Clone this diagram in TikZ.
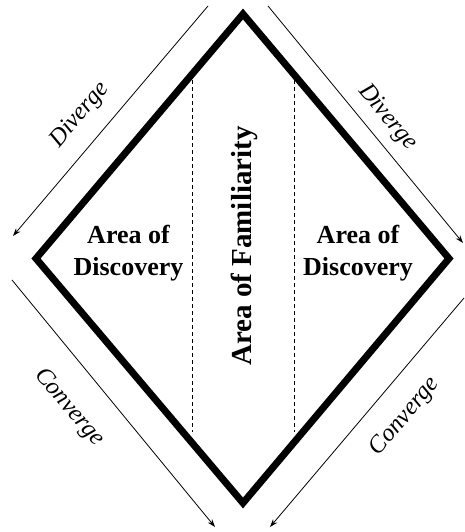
\documentclass[tikz,border=0pt]{standalone}
\usepackage{fontspec}
\setmainfont{Liberation Serif}
\usetikzlibrary{arrows.meta}
\tikzset{
  edge/.style={line width=7pt, line join=miter},
  divider/.style={line width=0.9pt, dash pattern=on 4pt off 3pt},
  flow/.style={line width=0.8pt, -{Stealth[length=8pt,width=5.5pt]}},
  flowlabel/.style={font=\itshape\fontsize{24.5}{26}\selectfont, inner sep=0pt},
  area/.style={font=\bfseries\fontsize{26}{32}\selectfont, align=center, inner sep=0pt},
  famarea/.style={font=\bfseries\fontsize{29}{30}\selectfont, inner sep=0pt, rotate=90}
}
\begin{document}
\begin{tikzpicture}[x=1pt,y=-1pt]
\useasboundingbox (0,0) rectangle (464,532);
% diamond vertices
\coordinate (top) at (243,14);
\coordinate (right) at (449,258.5);
\coordinate (bottom) at (243,503);
\coordinate (left) at (36,258.5);
% dividers
\coordinate (d1a) at (192,80);
\coordinate (d1b) at (192,432);
\coordinate (d2a) at (294,80);
\coordinate (d2b) at (294,432);
\draw[divider] (d1a) -- (d1b);
\draw[divider] (d2a) -- (d2b);
\draw[edge] (top) -- (right) -- (bottom) -- (left) -- cycle;
% texts
\node[area] (discL) at (128.5,253) {Area of\\Discovery};
\node[area] (discR) at (358,253) {Area of\\Discovery};
\node[famarea] (fam) at (244,246) {Area of Familiarity};
% flow arrows
\coordinate (tls) at (208,6);
\coordinate (tle) at (13,236);
\coordinate (trs) at (268,6);
\coordinate (tre) at (463,243);
\coordinate (bls) at (12,280);
\coordinate (ble) at (215,527);
\coordinate (brs) at (464,298);
\coordinate (bre) at (270,527);
\draw[flow] (tls) -- (tle);
\draw[flow] (trs) -- (tre);
\draw[flow] (bls) -- (ble);
\draw[flow] (brs) -- (bre);
\node[flowlabel, rotate=49.8] (divL) at (80,115) {Diverge};
\node[flowlabel, rotate=-49.8] (divR) at (387.5,117.5) {Diverge};
\node[flowlabel, rotate=-49.8] (conL) at (69,407.5) {Converge};
\node[flowlabel, rotate=49.8] (conR) at (405,416.7) {Converge};
\end{tikzpicture}
\end{document}
